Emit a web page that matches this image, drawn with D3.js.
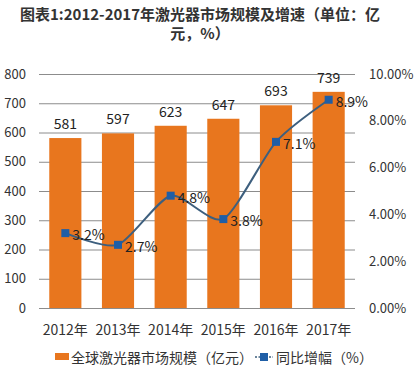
<!DOCTYPE html>
<html><head><meta charset="utf-8">
<script src="https://cdn.jsdelivr.net/npm/d3@7"></script>
<style>body{margin:0;background:#fff;} svg{display:block;}</style>
</head><body>
<svg id="c" width="417" height="368"></svg>
<script>
const years = ["2012年","2013年","2014年","2015年","2016年","2017年"];
const marketSize = [581, 597, 623, 647, 693, 739];
const growthRate = [3.2, 2.7, 4.8, 3.8, 7.1, 8.9];
const leftTicks = [0,100,200,300,400,500,600,700,800];
const rightTicks = [0,2,4,6,8,10];
const titleLines = ["图表1:2012-2017年激光器市场规模及增速（单位：亿", "元，%）"];
const legendLabels = ["全球激光器市场规模（亿元）", "同比增幅（%）"];

const font = "'Microsoft YaHei','Noto Sans CJK SC','DejaVu Sans',sans-serif";
const svg = d3.select("#c");
const m = {l:39, r:355, t:74, b:308};

const x = d3.scaleBand().domain(years).range([m.l, m.r]).paddingInner(0.39).paddingOuter(0.195);
const yL = d3.scaleLinear().domain([0,800]).range([m.b, m.t]);
const yR = d3.scaleLinear().domain([0,10]).range([m.b, m.t]);

// title
svg.selectAll("text.title").data(titleLines).join("text")
  .attr("x", 200).attr("y", (d,i)=>20+i*19)
  .attr("text-anchor","middle").attr("font-family",font)
  .attr("font-size",15).attr("font-weight","bold").attr("fill","#333")
  .text(d=>d);

// gridlines + left axis
const gl = d3.axisLeft(yL).tickValues(leftTicks).tickSize(-(m.r-m.l)).tickPadding(13);
const gL = svg.append("g").attr("transform",`translate(${m.l},0)`).call(gl);
gL.select(".domain").remove();
gL.selectAll(".tick line").attr("stroke","#8c8c8c").attr("stroke-width",1);
gL.selectAll(".tick text").attr("font-family",font).attr("font-size",13).attr("fill","#333");

// right axis
const ar = d3.axisRight(yR).tickValues(rightTicks).tickSize(0).tickPadding(14).tickFormat(d=>d.toFixed(2)+"%");
const gR = svg.append("g").attr("transform",`translate(${m.r},0)`).call(ar);
gR.select(".domain").remove();
gR.selectAll(".tick text").attr("font-family",font).attr("font-size",13).attr("fill","#333");

// bars
svg.selectAll("rect.bar").data(marketSize).join("rect")
  .attr("x",(d,i)=>x(years[i])).attr("width",x.bandwidth())
  .attr("y",d=>yL(d)).attr("height",d=>m.b-yL(d)).attr("fill","#E8761E");

// bar labels
svg.selectAll("text.bl").data(marketSize).join("text")
  .attr("x",(d,i)=>x(years[i])+x.bandwidth()/2).attr("y",d=>yL(d)-9)
  .attr("text-anchor","middle").attr("font-family",font).attr("font-size",14).attr("fill","#222")
  .text(d=>d);

// x labels
svg.selectAll("text.xl").data(years).join("text")
  .attr("x",d=>x(d)+x.bandwidth()/2).attr("y",335)
  .attr("text-anchor","middle").attr("font-family",font).attr("font-size",14).attr("fill","#333")
  .text(d=>d);

// line
const cx = i => x(years[i])+x.bandwidth()/2;
const line = d3.line().x((d,i)=>cx(i)).y(d=>yR(d)).curve(d3.curveCardinal.tension(0.3));
svg.append("path").datum(growthRate).attr("d",line)
  .attr("fill","none").attr("stroke","#3d5f7e").attr("stroke-width",2);
svg.selectAll("rect.mk").data(growthRate).join("rect")
  .attr("x",(d,i)=>cx(i)-4).attr("y",d=>yR(d)-4).attr("width",8).attr("height",8).attr("fill","#1f5ea6");
svg.selectAll("text.pl").data(growthRate).join("text")
  .attr("x",(d,i)=>cx(i)+7).attr("y",d=>yR(d)+7)
  .attr("font-family",font).attr("font-size",14).attr("fill","#222")
  .text(d=>d.toFixed(1)+"%");

// legend
svg.append("rect").attr("x",55).attr("y",353).attr("width",14).attr("height",7).attr("fill","#E8761E");
svg.append("text").attr("x",71).attr("y",363).attr("font-family",font).attr("font-size",14).attr("fill","#333").text(legendLabels[0]);
svg.append("line").attr("x1",255).attr("x2",273).attr("y1",357).attr("y2",357).attr("stroke","#3d5f7e").attr("stroke-width",1.5).attr("stroke-dasharray","2,1.5");
svg.append("rect").attr("x",260).attr("y",353).attr("width",8).attr("height",8).attr("fill","#1f5ea6");
svg.append("text").attr("x",276).attr("y",363).attr("font-family",font).attr("font-size",14).attr("fill","#333").text(legendLabels[1]);
</script>
</body></html>
